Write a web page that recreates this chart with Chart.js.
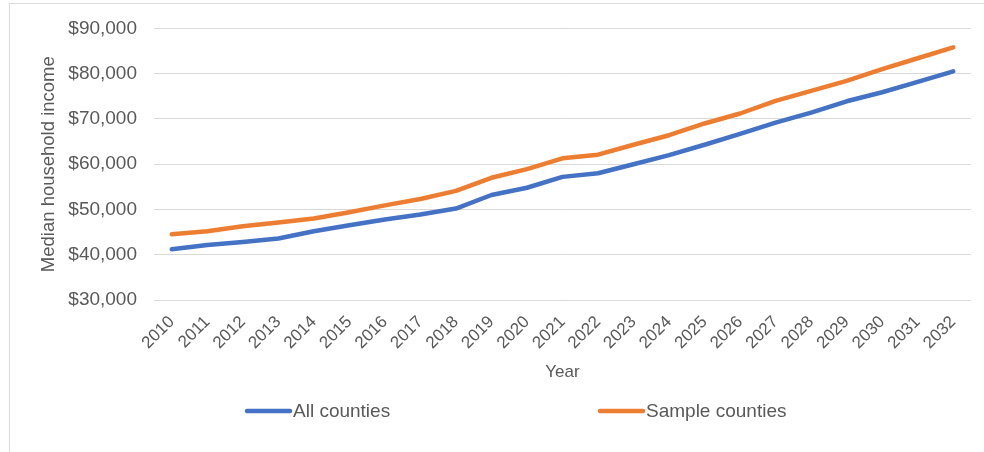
<!DOCTYPE html>
<html>
<head>
<meta charset="utf-8">
<title>Median household income, 2010–2032</title>
<script src="https://cdn.jsdelivr.net/npm/chart.js@4/dist/chart.umd.min.js"></script>
<style>
  html, body { margin: 0; padding: 0; background: #ffffff; overflow: hidden; }
  #frame {
    position: absolute; left: 9px; top: 3px; width: 1100px; height: 600px;
    border: 1px solid #d9d9d9; pointer-events: none;
  }
  #chart { position: absolute; left: 0; top: 0; }
</style>
</head>
<body>
<div id="frame"></div>
<canvas id="chart" width="984" height="452"></canvas>
<script>
// Years on the horizontal axis
const years = ['2010', '2011', '2012', '2013', '2014', '2015', '2016', '2017', '2018', '2019', '2020',
               '2021', '2022', '2023', '2024', '2025', '2026', '2027', '2028', '2029', '2030', '2031', '2032'];

// Median household income, all counties
const allCounties = [41200, 42150, 42800, 43600, 45200, 46500, 47800, 48900, 50200, 53200, 54800,
                     57200, 58000, 60000, 62000, 64300, 66700, 69200, 71400, 73900, 75900, 78200, 80500];

// Median household income, sample counties
const sampleCounties = [44500, 45200, 46300, 47100, 48000, 49400, 50900, 52300, 54100, 57000, 58900,
                        61300, 62100, 64300, 66400, 69000, 71200, 74000, 76200, 78400, 81000, 83400, 85800];

// Value axis range and step
const yMin = 30000;
const yMax = 90000;
const yStep = 10000;

const seriesNames = ['All counties', 'Sample counties'];
const seriesColors = ['#4472C4', '#ED7D31'];

const FONT = '"Liberation Sans", Arial, sans-serif';
const TEXT = '#595959';
const LINE_WIDTH = 4.5;

const money = v => '$' + Number(v).toLocaleString('en-US');

// Legend drawn as a single row below the axis, one short line swatch per series
const lineLegend = {
  id: 'lineLegend',
  afterDraw(chart, args, opts) {
    const ctx = chart.ctx;
    ctx.save();
    ctx.font = opts.fontSize + 'px ' + FONT;
    ctx.textBaseline = 'middle';
    ctx.textAlign = 'left';
    chart.data.datasets.forEach((ds, i) => {
      const x = opts.starts[i];
      ctx.strokeStyle = ds.borderColor;
      ctx.lineWidth = opts.lineWidth;
      ctx.lineCap = 'round';
      ctx.beginPath();
      ctx.moveTo(x + 2, opts.y);
      ctx.lineTo(x + opts.swatch - 2, opts.y);
      ctx.stroke();
      ctx.fillStyle = TEXT;
      ctx.fillText(ds.label, x + opts.swatch + 1, opts.y + 1);
    });
    ctx.restore();
  }
};

new Chart(document.getElementById('chart'), {
  type: 'line',
  data: {
    labels: years,
    datasets: [
      { label: seriesNames[0], data: allCounties, borderColor: seriesColors[0], backgroundColor: seriesColors[0] },
      { label: seriesNames[1], data: sampleCounties, borderColor: seriesColors[1], backgroundColor: seriesColors[1] }
    ]
  },
  options: {
    responsive: false,
    animation: false,
    devicePixelRatio: 1,
    layout: { padding: { left: 0, right: 13, top: 25, bottom: 62 } },
    elements: {
      line: { borderWidth: LINE_WIDTH, tension: 0, borderCapStyle: 'round', borderJoinStyle: 'round' },
      point: { radius: 0, hoverRadius: 0 }
    },
    plugins: {
      legend: { display: false },
      tooltip: { enabled: false },
      lineLegend: { starts: [245, 598], y: 411, swatch: 47, fontSize: 19, lineWidth: LINE_WIDTH }
    },
    scales: {
      x: {
        type: 'category',
        offset: true,
        grid: { display: false, drawTicks: false },
        border: { display: false },
        ticks: {
          autoSkip: false, minRotation: 45, maxRotation: 45, padding: 12,
          color: TEXT, font: { family: FONT, size: 17 }
        },
        title: {
          display: true, text: 'Year', color: TEXT,
          font: { family: FONT, size: 17 }, padding: { top: 0, bottom: 7 }
        },
        afterFit(scale) { scale.height = 90; }
      },
      y: {
        min: yMin, max: yMax,
        grid: { color: '#d9d9d9', lineWidth: 1, drawTicks: false },
        border: { display: false },
        ticks: {
          stepSize: yStep, padding: 17, color: TEXT,
          font: { family: FONT, size: 19 },
          callback: v => money(v)
        },
        title: {
          display: true, text: 'Median household income', color: TEXT,
          font: { family: FONT, size: 18.5 }, padding: { top: 38, bottom: 0 }
        },
        afterFit(scale) { scale.width = 154; }
      }
    }
  },
  plugins: [lineLegend]
});
</script>
</body>
</html>
